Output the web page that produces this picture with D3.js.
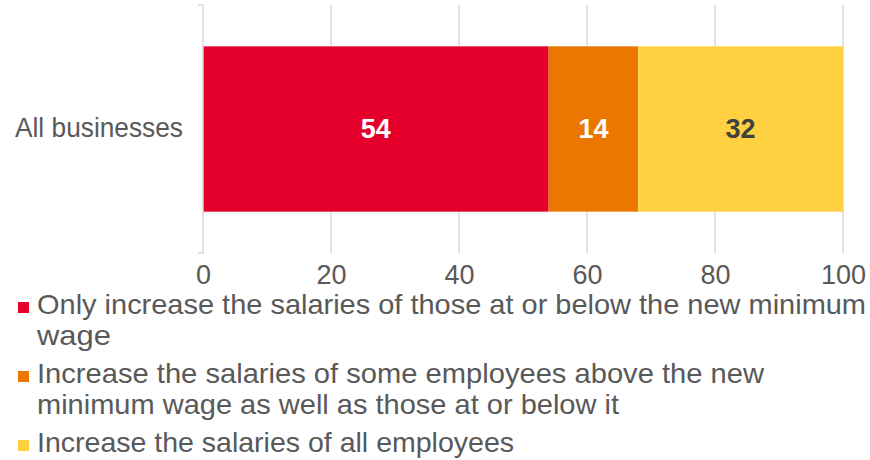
<!DOCTYPE html>
<html>
<head>
<meta charset="utf-8">
<script src="https://cdn.jsdelivr.net/npm/d3@7"></script>
<style>
  html, body { margin: 0; padding: 0; background: #ffffff; }
  svg { display: block; }
  text { font-family: "Liberation Sans", Arial, sans-serif; }
</style>
</head>
<body>
<svg id="chart" width="870" height="460"></svg>
<script>
// Share of businesses by planned pay response (per cent)
const categories = ["All businesses"];
const seriesKeys = ["only", "some", "all"];
const seriesValues = [54, 14, 32];
const seriesColors = ["#e4002b", "#ec7700", "#ffd040"];
const valueLabelColors = ["#ffffff", "#ffffff", "#404040"];
const xTickValues = [0, 20, 40, 60, 80, 100];
const legendLines = [
  ["Only increase the salaries of those at or below the new minimum", "wage"],
  ["Increase the salaries of some employees above the new", "minimum wage as well as those at or below it"],
  ["Increase the salaries of all employees"]
];

const svg = d3.select("#chart");
const textGrey = "#595959";
const gridGrey = "#d9d9d9";

const x = d3.scaleLinear().domain([0, 100]).range([203, 843]);
const y = d3.scaleBand().domain(categories).range([5, 253])
  .paddingInner(0.2).paddingOuter(0.2);

// vertical gridlines
svg.append("g")
  .selectAll("line")
  .data(xTickValues.slice(1))
  .join("line")
  .attr("x1", d => x(d)).attr("x2", d => x(d))
  .attr("y1", y.range()[0]).attr("y2", y.range()[1])
  .attr("stroke", gridGrey)
  .attr("stroke-width", 1.5);

// stacked bar segments
const rows = categories.map(c => {
  const row = { category: c };
  seriesKeys.forEach((k, i) => { row[k] = seriesValues[i]; });
  return row;
});
const stacked = d3.stack().keys(seriesKeys)(rows);

const layers = svg.append("g")
  .selectAll("g")
  .data(stacked)
  .join("g")
  .attr("fill", (d, i) => seriesColors[i]);

layers.selectAll("rect")
  .data(d => d)
  .join("rect")
  .attr("x", d => x(d[0]))
  .attr("y", d => y(d.data.category))
  .attr("width", d => x(d[1]) - x(d[0]))
  .attr("height", y.bandwidth());

// value labels
layers.each(function (layer, i) {
  d3.select(this).selectAll("text")
    .data(layer)
    .join("text")
    .attr("x", d => (x(d[0]) + x(d[1])) / 2)
    .attr("y", d => y(d.data.category) + y.bandwidth() / 2)
    .attr("dy", "0.33em")
    .attr("text-anchor", "middle")
    .attr("font-size", 27)
    .attr("font-weight", "bold")
    .attr("fill", valueLabelColors[i])
    .text(d => d[1] - d[0]);
});

// category axis: domain line with edge ticks
const [y0, y1] = y.range();
const x0 = x(0);
svg.append("path")
  .attr("d", `M${x0 - 5},${y0}H${x0}V${y1}H${x0 - 5}`)
  .attr("fill", "none")
  .attr("stroke", gridGrey)
  .attr("stroke-width", 1.5);

svg.append("g")
  .selectAll("text")
  .data(categories)
  .join("text")
  .attr("x", x0 - 20)
  .attr("y", d => y(d) + y.bandwidth() / 2)
  .attr("dy", "0.28em")
  .attr("text-anchor", "end")
  .attr("font-size", 28)
  .attr("fill", textGrey)
  .attr("textLength", 168)
  .attr("lengthAdjust", "spacingAndGlyphs")
  .text(d => d);

// value axis
const xAxis = svg.append("g")
  .attr("transform", `translate(0,${y1})`)
  .call(d3.axisBottom(x).tickValues(xTickValues).tickSize(0).tickPadding(12));
xAxis.select(".domain").remove();
xAxis.selectAll("text")
  .attr("font-family", "'Liberation Sans Narrow', 'Liberation Sans', Arial, sans-serif")
  .attr("font-size", 27)
  .attr("fill", textGrey);

// legend
const legendStart = [314, 383, 452];
const lineStep = 31;
const legendWidths = [[829, 74], [727, 582], [477]];
const legend = svg.append("g");
legendLines.forEach((lines, i) => {
  const g = legend.append("g");
  g.append("rect")
    .attr("x", 18)
    .attr("y", legendStart[i] - 12)
    .attr("width", 11)
    .attr("height", 11)
    .attr("fill", seriesColors[i]);
  g.selectAll("text")
    .data(lines)
    .join("text")
    .attr("x", 37)
    .attr("y", (d, j) => legendStart[i] + j * lineStep)
    .attr("font-size", 28)
    .attr("fill", textGrey)
    .attr("textLength", (d, j) => legendWidths[i][j])
    .attr("lengthAdjust", "spacingAndGlyphs")
    .text(d => d);
});
</script>
</body>
</html>
